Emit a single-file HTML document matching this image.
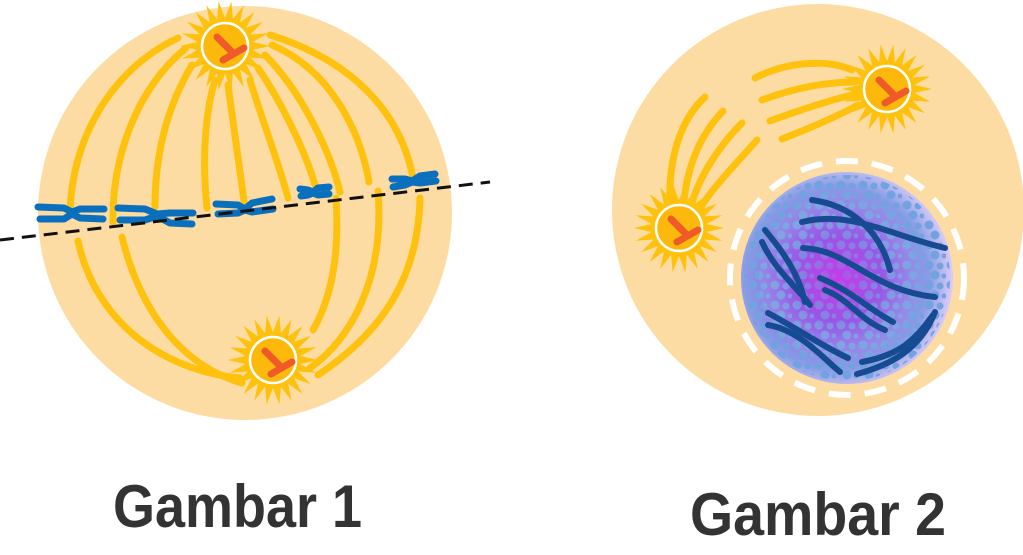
<!DOCTYPE html>
<html><head><meta charset="utf-8"><style>
html,body{margin:0;padding:0;background:#fff;}
svg{display:block;}
</style></head><body>
<svg id="s" width="1023" height="555" viewBox="0 0 1023 555" xmlns="http://www.w3.org/2000/svg">
<defs>
<radialGradient id="nuc" cx="0.45" cy="0.5" r="0.55">
<stop offset="0" stop-color="#c43ce8"/>
<stop offset="0.45" stop-color="#8f5ee6"/>
<stop offset="0.8" stop-color="#8a9ee6"/>
<stop offset="1" stop-color="#dcccf6"/>
</radialGradient>
<pattern id="bub" width="22" height="20" patternUnits="userSpaceOnUse">
<circle cx="5" cy="5" r="4.5" fill="#72a2e0"/>
<circle cx="16" cy="6" r="3.5" fill="#72a2e0"/>
<circle cx="11" cy="15" r="4.5" fill="#72a2e0"/>
<circle cx="20" cy="16" r="2.5" fill="#72a2e0"/>
</pattern>
<radialGradient id="fade" cx="0.45" cy="0.5" r="0.5">
<stop offset="0" stop-color="#c43ce8" stop-opacity="0.85"/>
<stop offset="0.5" stop-color="#a050e6" stop-opacity="0.3"/>
<stop offset="1" stop-color="#ffffff" stop-opacity="0"/>
</radialGradient>
</defs>

<!-- Cell 1 -->
<circle cx="245" cy="213" r="207" fill="#fddca3"/>
<g fill="none" stroke="#fec20e" stroke-width="7" stroke-linecap="round">
<path d="M178,38 C110,70 72,140 70,212"/>
<path d="M186,48 C135,90 112,160 113,222"/>
<path d="M192,65 C165,110 155,160 155,207"/>
<path d="M215,80 C203,120 203,170 207,208"/>
<path d="M228,85 C234,130 240,170 245,208"/>
<path d="M250,80 C262,120 278,160 288,198"/>
<path d="M258,68 C280,100 305,150 315,185"/>
<path d="M265,55 C300,90 330,150 340,192"/>
<path d="M272,45 C330,70 360,130 369,182"/>
<path d="M270,35 C350,60 400,110 413,178"/>
<path d="M78,241 C95,320 160,370 240,378"/>
<path d="M122,237 C140,310 180,365 242,383"/>
<path d="M336,198 C340,260 330,300 313,330"/>
<path d="M378,191 C385,280 350,340 310,368"/>
<path d="M420,198 C418,290 370,340 318,375"/>
</g>
<g stroke="#0a6fbd" stroke-width="7" stroke-linecap="round" stroke-linejoin="round" fill="none">
<path d="M38,207 L64,208 L72,212 L80,209 L104,209"/><path d="M40,219 L64,219 L72,214 L80,218 L103,219"/>
<path d="M118,208 L145,209 L157,214 L170,213 L193,213"/><path d="M120,220 L145,220 L157,216 L170,223 L192,224"/>
<path d="M216,204 L238,205 L245,209 L252,203 L272,199"/><path d="M218,214 L238,213 L245,210 L252,212 L273,209"/>
<path d="M300,189 L308,190 L313,192 L318,188 L329,187"/><path d="M301,196 L308,195 L313,193 L318,195 L329,194"/>
<path d="M392,179 L405,179 L412,181 L420,176 L435,174"/><path d="M393,187 L405,185 L412,182 L420,183 L436,181"/>
</g>
<line x1="0" y1="240" x2="490" y2="182" stroke="#111" stroke-width="3" stroke-dasharray="14 8"/>

<!-- Cell 2 -->
<circle cx="818" cy="210" r="206" fill="#fddca3"/>
<g fill="none" stroke="#fec20e" stroke-width="7" stroke-linecap="round">
<path d="M755,78 C790,60 830,60 852,70"/>
<path d="M762,100 C800,86 830,82 855,82"/>
<path d="M770,121 C800,110 830,100 856,94"/>
<path d="M782,139 C810,128 840,115 858,105"/>
<path d="M705,97 C680,120 668,160 670,205"/>
<path d="M723,111 C700,135 688,165 684,200"/>
<path d="M742,123 C720,145 700,175 692,203"/>
<path d="M757,140 C735,165 715,185 700,208"/>
</g>
<circle cx="847" cy="278" r="117" fill="none" stroke="#fff" stroke-width="6" stroke-dasharray="22 14"/>
<circle cx="847" cy="278" r="106" fill="url(#nuc)"/>
<circle cx="847" cy="278" r="103" fill="url(#bub)"/>
<circle cx="847" cy="278" r="88" fill="url(#fade)"/>
<g fill="none" stroke="#164b92" stroke-width="6" stroke-linecap="round">
<path d="M812,200 C850,205 880,230 890,270"/>
<path d="M802,222 C850,210 890,235 945,248"/>
<path d="M765,230 C790,260 800,280 805,302"/>
<path d="M762,242 C775,270 795,285 810,305"/>
<path d="M803,248 C850,250 870,290 935,297"/>
<path d="M820,278 C850,290 870,310 893,322"/>
<path d="M825,290 C850,300 860,320 885,330"/>
<path d="M768,313 C800,330 820,345 848,358"/>
<path d="M768,325 C800,330 825,360 840,372"/>
<path d="M857,374 C890,365 920,350 935,312"/>
<path d="M862,362 C900,355 915,340 933,315"/>
</g>

<g id="suns"></g>

<text x="113" y="527" font-family="Liberation Sans, sans-serif" font-weight="bold" font-size="60" fill="#333" textLength="249" lengthAdjust="spacingAndGlyphs">Gambar 1</text>
<text x="690" y="535" font-family="Liberation Sans, sans-serif" font-weight="bold" font-size="60" fill="#333" textLength="256" lengthAdjust="spacingAndGlyphs">Gambar 2</text>
</svg>
<script>
(function(){
var ns="http://www.w3.org/2000/svg",g=document.getElementById("suns");
[[225,46],[273,360],[887,89],[679,228]].forEach(function(c){
 var pts=[],n=22;
 for(var i=0;i<n*2;i++){var a=i*Math.PI/n,r=(i%2==0)?45:28;pts.push((c[0]+r*Math.cos(a)).toFixed(1)+","+(c[1]+r*Math.sin(a)).toFixed(1));}
 var p=document.createElementNS(ns,"polygon");p.setAttribute("points",pts.join(" "));p.setAttribute("fill","#fec20e");g.appendChild(p);
 var ci=document.createElementNS(ns,"circle");ci.setAttribute("cx",c[0]);ci.setAttribute("cy",c[1]);ci.setAttribute("r",23);ci.setAttribute("fill","#fcb90c");ci.setAttribute("stroke","#fff");ci.setAttribute("stroke-width","2.5");g.appendChild(ci);
 var y=document.createElementNS(ns,"path");
 y.setAttribute("d","M"+(c[0]-8)+","+(c[1]-9)+" L"+(c[0]+6)+","+(c[1]+5)+" M"+(c[0]-2)+","+(c[1]+14)+" L"+(c[0]+19)+","+(c[1]+2));
 y.setAttribute("stroke","#f05a28");y.setAttribute("stroke-width","7");y.setAttribute("stroke-linecap","round");y.setAttribute("fill","none");g.appendChild(y);
});
})();
</script>
</body></html>
